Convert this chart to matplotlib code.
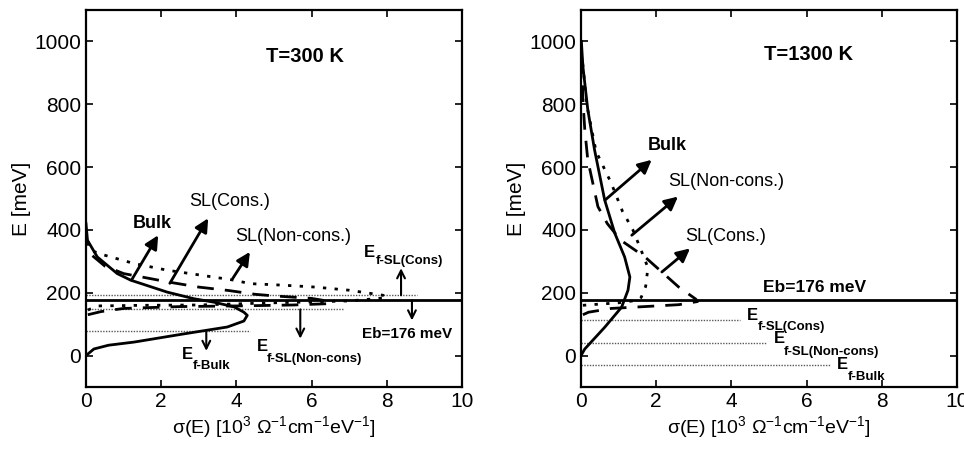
import matplotlib

matplotlib.use("Agg")
import matplotlib.pyplot as plt

plt.rcParams["font.family"] = ["Liberation Sans", "DejaVu Sans"]
plt.rcParams["mathtext.default"] = "regular"

EB = 176

# ---- T = 300 K: curves as (sigma, E) ----
bulk_300_sigma = [0.0, 0.21, 0.6, 1.28, 2.6, 3.76, 4.2, 4.29, 4.2, 3.94, 3.4, 2.87, 2.16, 1.19, 0.83, 0.3, 0.04, 0.0]
bulk_300_e = [0, 21, 33, 43, 69, 91, 110, 128, 138, 155, 170, 181, 202, 240, 261, 314, 367, 420]

cons_300_sigma = [0.05, 0.4, 1.0, 2.5, 4.0, 5.5, 6.4, 6.5, 6.0, 5.0, 4.5, 3.8, 3.0, 2.2, 1.0, 0.5, 0.15, 0.02]
cons_300_e = [130, 140, 150, 156, 158, 161, 165, 172, 182, 190, 195, 207, 218, 234, 261, 285, 320, 370]

noncons_300_sigma = [0.05, 0.3, 1.5, 3.0, 5.0, 7.0, 8.0, 7.9, 7.0, 6.1, 5.25, 4.36, 3.94, 3.05, 2.15, 1.28, 0.48, 0.12, 0.02]
noncons_300_e = [145, 158, 160, 161, 168, 174, 184, 192, 208, 218, 224, 229, 240, 256, 272, 293, 320, 335, 380]

# Fermi levels (meV) and the extent of their dotted lines (sigma)
ef_300 = {"cons": (192, 8.8), "noncons": (147, 6.85), "bulk": (77, 4.35)}

# ---- T = 1300 K ----
bulk_1300_sigma = [0.0, 0.1, 0.63, 1.08, 1.25, 1.3, 1.16, 0.9, 0.63, 0.36, 0.18, 0.05, 0.01]
bulk_1300_e = [0, 21, 90, 154, 208, 250, 314, 389, 495, 655, 783, 921, 1000]

cons_1300_sigma = [0.05, 0.2, 0.8, 1.7, 2.6, 3.1, 3.05, 2.6, 2.15, 1.7, 1.06, 0.7, 0.45, 0.18, 0.1, 0.05, 0.02]
cons_1300_e = [130, 138, 150, 156, 162, 172, 180, 218, 266, 314, 367, 420, 474, 623, 720, 815, 950]

noncons_1300_sigma = [0.05, 0.4, 1.0, 1.5, 1.6, 1.72, 1.78, 1.6, 1.38, 1.1, 0.8, 0.4, 0.15, 0.03]
noncons_1300_e = [160, 163, 168, 176, 185, 220, 280, 335, 400, 460, 550, 650, 800, 950]

ef_1300 = {"cons": (112, 4.23), "noncons": (39, 4.92), "bulk": (-29, 6.65)}

X_TICKS = [0, 2, 4, 6, 8, 10]
Y_TICKS = [0, 200, 400, 600, 800, 1000]


def _style_axes(ax):
    ax.set_xlim(0, 10)
    ax.set_ylim(-100, 1100)
    ax.set_xticks(X_TICKS)
    ax.set_yticks(Y_TICKS)
    ax.tick_params(direction="in", top=True, right=True, length=5, width=1.2, labelsize=15)
    for spine in ax.spines.values():
        spine.set_linewidth(1.6)
    ax.set_xlabel(r"σ(E) [10$^3$ Ω$^{-1}$cm$^{-1}$eV$^{-1}$]", fontsize=14, labelpad=2)
    ax.set_ylabel("E [meV]", fontsize=15, labelpad=2)


def _curves(ax, bulk, cons, noncons):
    ax.plot(*bulk, color="k", lw=2)
    ax.plot(*cons, color="k", lw=2, ls=(0, (6, 4)))
    ax.plot(*noncons, color="k", lw=2, ls=(0, (1.2, 3)))
    ax.axhline(EB, color="k", lw=2)


def _ef_lines(ax, levels):
    for level, extent in levels.values():
        ax.plot([0, extent], [level, level], color="0.35", lw=1, ls=(0, (1, 1)))


def _fat_arrow(ax, tail, head):
    ax.annotate("", xy=head, xytext=tail,
                arrowprops=dict(arrowstyle="-|>", lw=2, mutation_scale=20, color="k",
                                shrinkA=0, shrinkB=0))


def _thin_arrow(ax, x, y0, y1):
    ax.annotate("", xy=(x, y1), xytext=(x, y0),
                arrowprops=dict(arrowstyle="->", lw=1.5, mutation_scale=14, color="k",
                                shrinkA=0, shrinkB=0))


def _ef_label(ax, x, y, sub, sub_x, sub_y):
    ax.text(x, y, "E", fontsize=12, fontweight="bold", ha="left", va="baseline")
    ax.text(sub_x, sub_y, sub, fontsize=9.5, fontweight="bold", ha="left", va="baseline")


fig = plt.figure(figsize=(9.64, 4.51), dpi=100)
ax1 = fig.add_axes([0.0892, 0.1419, 0.390, 0.836])
ax2 = fig.add_axes([0.6027, 0.1419, 0.390, 0.836])

# left panel
_style_axes(ax1)
_ef_lines(ax1, ef_300)
_curves(ax1, (bulk_300_sigma, bulk_300_e), (cons_300_sigma, cons_300_e),
        (noncons_300_sigma, noncons_300_e))
ax1.text(5.82, 953, "T=300 K", fontsize=14.5, fontweight="bold", ha="center", va="center")
ax1.text(1.75, 420, "Bulk", fontsize=13, fontweight="bold", ha="center", va="center")
ax1.text(3.83, 490, "SL(Cons.)", fontsize=13, ha="center", va="center")
ax1.text(5.5, 378, "SL(Non-cons.)", fontsize=13, ha="center", va="center")
_fat_arrow(ax1, (1.21, 240), (1.92, 383))
_fat_arrow(ax1, (2.23, 230), (3.25, 437))
_fat_arrow(ax1, (3.9, 245), (4.36, 330))
_thin_arrow(ax1, 8.38, 192, 278)
_thin_arrow(ax1, 8.67, EB, 112)
_thin_arrow(ax1, 5.7, 147, 54)
_thin_arrow(ax1, 3.2, 77, 15)
ax1.text(8.55, 69, "Eb=176 meV", fontsize=11, fontweight="bold", ha="center", va="center")
_ef_label(ax1, 7.38, 314, "f-SL(Cons)", 7.72, 290)
_ef_label(ax1, 4.54, 16, "f-SL(Non-cons)", 4.8, -20)
_ef_label(ax1, 2.54, -11, "f-Bulk", 2.84, -42)

# right panel
_style_axes(ax2)
_ef_lines(ax2, ef_1300)
_curves(ax2, (bulk_1300_sigma, bulk_1300_e), (cons_1300_sigma, cons_1300_e),
        (noncons_1300_sigma, noncons_1300_e))
ax2.text(6.05, 958, "T=1300 K", fontsize=14.5, fontweight="bold", ha="center", va="center")
ax2.text(2.3, 670, "Bulk", fontsize=13, fontweight="bold", ha="center", va="center")
ax2.text(3.85, 554, "SL(Non-cons.)", fontsize=13, ha="center", va="center")
ax2.text(3.85, 378, "SL(Cons.)", fontsize=13, ha="center", va="center")
_fat_arrow(ax2, (0.64, 495), (1.88, 623))
_fat_arrow(ax2, (1.35, 383), (2.58, 506))
_fat_arrow(ax2, (2.15, 266), (2.9, 341))
ax2.text(6.22, 218, "Eb=176 meV", fontsize=12.5, fontweight="bold", ha="center", va="center")
_ef_label(ax2, 4.4, 113, "f-SL(Cons)", 4.7, 83)
_ef_label(ax2, 5.12, 40, "f-SL(Non-cons)", 5.4, 1)
_ef_label(ax2, 6.8, -44, "f-Bulk", 7.1, -77)

fig.savefig("out.png", dpi=100)
